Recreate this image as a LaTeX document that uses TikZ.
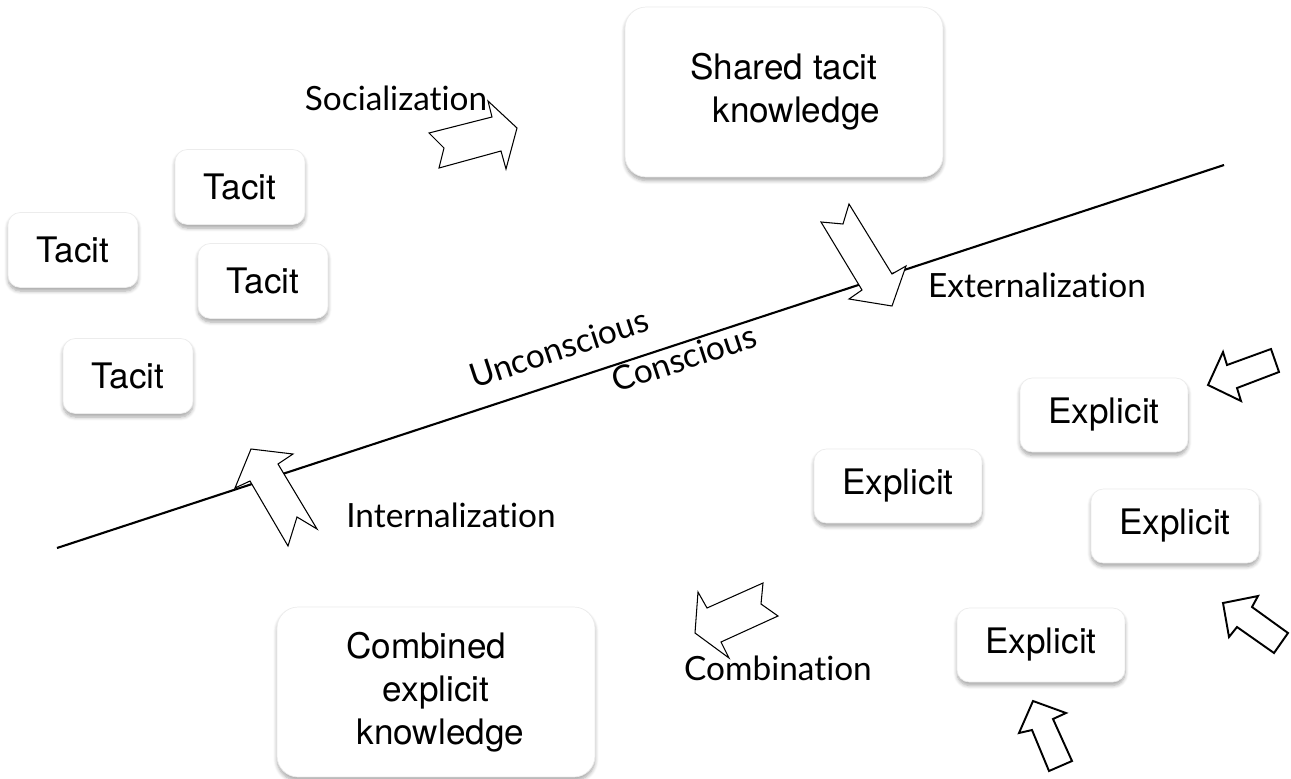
\documentclass[tikz,border=0pt]{standalone}
\usepackage{fontspec}
\setmainfont{TeX Gyre Heros}
\newfontfamily\gillfont[Ligatures=NoCommon]{Lato}
\usepackage{tikz}
\usetikzlibrary{shadows.blur}
\usetikzlibrary{positioning}
\tikzset{>=stealth}
\tikzset{
  card/.style={draw=gray!15, fill=white, rounded corners=7pt, inner sep=0pt,
    blur shadow={shadow xshift=0pt, shadow yshift=-2pt, shadow blur steps=6, shadow opacity=35},
    font=\fontsize{20}{24.5}\selectfont},
  tacit/.style={card, minimum width=2.6cm, minimum height=1.5cm},
  explicit/.style={card, minimum width=3.36cm, minimum height=1.48cm},
  bigcard/.style={card, rounded corners=12pt, minimum width=6.36cm, minimum height=3.4cm, align=center},
  mode/.style={font=\gillfont\fontsize{19}{22}\selectfont},
  blockarrow/.style={draw=black, fill=white, line width=0.6pt, line join=miter},
  heavyarrow/.style={blockarrow, line width=1.1pt}
}

\begin{document}
\begin{tikzpicture}[x=0.02cm, y=-0.02cm]
  \useasboundingbox (0,0) rectangle (1291,778);

  % the dividing line
  \coordinate (lineA) at (57,548);
  \coordinate (lineB) at (1224,165);
  \draw[line width=1.2pt] (lineA) -- (lineB);
  \node[mode, rotate=18.2] (unconscious) at (559,348) {Unconscious};
  \node[mode, rotate=18.2] (conscious) at (684,358) {Conscious};

  % tacit side
  \node[tacit] (tacit1) at (240,187) {Tacit};
  \node[tacit] (tacit2) at (73,250) {Tacit};
  \node[tacit] (tacit3) at (263,281) {Tacit};
  \node[tacit] (tacit4) at (128,376) {Tacit};
  \node[bigcard] (shared) at (784,92) {Shared tacit\\ \hspace*{0.7em}knowledge};

  % explicit side
  \node[explicit] (explicit1) at (1104,415) {Explicit};
  \node[explicit] (explicit2) at (898,486) {Explicit};
  \node[explicit] (explicit3) at (1175,526) {Explicit};
  \node[explicit] (explicit4) at (1041,645) {Explicit};
  \node[bigcard] (combined) at (436,692)
    {Combined\hspace*{0.55em}\\ explicit\hspace*{0.45em}\\ \hspace*{0.25em}knowledge};

  % the four modes
  \node[mode] (socialization) at (396,98) {Socialization};
  \node[mode] (externalization) at (1037,285) {Externalization};
  \node[mode] (internalization) at (451,515) {Internalization};
  \node[mode] (combination) at (778,668) {Combination};

  % notched arrows
  \draw[blockarrow] (429,133) -- (444,148) -- (439,168) -- (501,151) -- (506,169)
    -- (517,128) -- (488,101) -- (492,117) -- cycle;
  \draw[blockarrow] (849,204) -- (843,224) -- (821,222) -- (862,290) -- (849,299)
    -- (892,306) -- (906,266) -- (892,274) -- cycle;
  \draw[blockarrow] (251,449) -- (293,454) -- (278,464) -- (317,529) -- (297,517)
    -- (288,546) -- (250,481) -- (235,488) -- cycle;
  \draw[blockarrow] (698,592) -- (707,608) -- (763,583) -- (761,604) -- (778,616)
    -- (721,642) -- (729,658) -- (695,633) -- cycle;

  % plain arrows round the explicit cards
  \draw[heavyarrow] (1223,352) -- (1227,365) -- (1271,349) -- (1279,372) -- (1237,388)
    -- (1241,401) -- (1208,385) -- cycle;
  \draw[heavyarrow] (1223,603) -- (1258,596) -- (1252,607) -- (1288,633) -- (1274,653)
    -- (1237,627) -- (1229,637) -- cycle;
  \draw[heavyarrow] (1033,701) -- (1066,713) -- (1053,719) -- (1072,761) -- (1049,771)
    -- (1032,730) -- (1019,733) -- cycle;
\end{tikzpicture}
\end{document}
